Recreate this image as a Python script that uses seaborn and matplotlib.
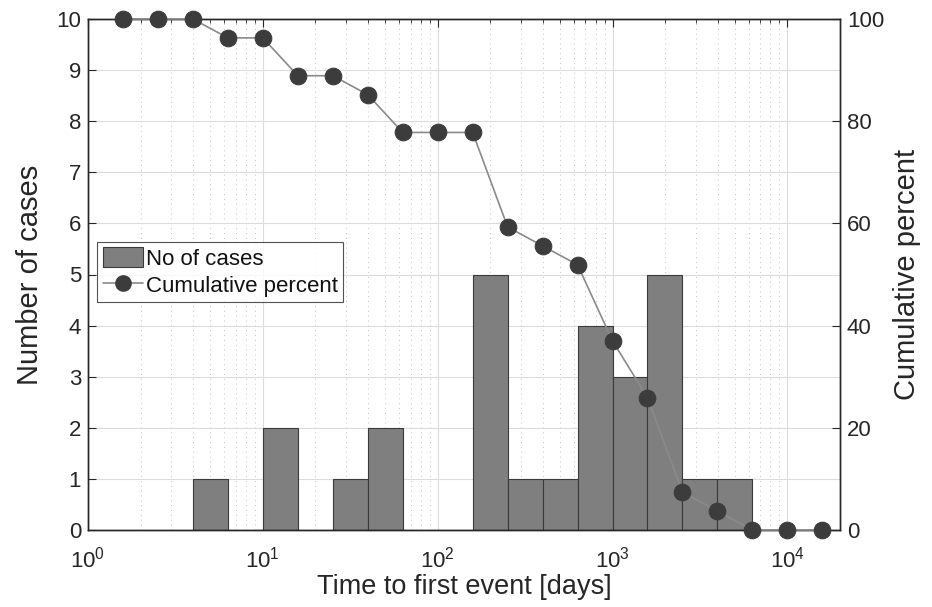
import numpy as np
import pandas as pd
import matplotlib
matplotlib.use("Agg")
import matplotlib.pyplot as plt
from matplotlib.patches import Patch
from matplotlib.lines import Line2D
from matplotlib.ticker import LogLocator
import seaborn as sns

# ---- data ----
bin_start_exp = [0.6, 1.0, 1.4, 1.6, 2.2, 2.4, 2.6, 2.8, 3.0, 3.2, 3.4, 3.6]
cases = [1, 2, 1, 2, 5, 1, 1, 4, 3, 5, 1, 1]
cum_time = [1.585, 2.512, 3.981, 6.310, 10.0, 15.85, 25.12, 39.81, 63.10, 100.0,
            158.5, 251.2, 398.1, 631.0, 1000.0, 1585.0, 2512.0, 3981.0, 6310.0,
            10000.0, 15850.0]
cum_pct = [100, 100, 100, 96.3, 96.3, 88.9, 88.9, 85.2, 77.8, 77.8, 77.8,
           59.3, 55.6, 51.9, 37.0, 25.9, 7.4, 3.7, 0, 0, 0]
left_ticks = list(range(0, 11))
right_ticks = [0, 20, 40, 60, 80, 100]

sns.set_style("white")
plt.rcParams['font.family'] = ['Liberation Sans', 'DejaVu Sans']
plt.rcParams['mathtext.default'] = 'regular'

TXT = "#262626"
BAR = "#7f7f7f"

hist_df = pd.DataFrame({"time": [10 ** (e + 0.1) for e in bin_start_exp], "cases": cases})
cum_df = pd.DataFrame({"time": cum_time, "pct": cum_pct})

fig = plt.figure(figsize=(9.32, 6.07), dpi=100)
ax = fig.add_axes([88 / 932, 1 - 530 / 607, (840 - 88) / 932, (530 - 19) / 607])

sns.histplot(data=hist_df, x="time", weights="cases", log_scale=True,
             binwidth=0.2, binrange=(0.6, 3.8), color=BAR, alpha=1,
             edgecolor="#3a3a3a", linewidth=0.8, ax=ax, zorder=2)

ax.set_xlim(1, 2e4)
ax.set_ylim(0, 10)
ax.set_yticks(left_ticks)
ax.xaxis.set_major_locator(LogLocator(base=10, numticks=10))
ax.xaxis.set_minor_locator(LogLocator(base=10, subs=np.arange(2, 10), numticks=100))
ax.grid(True, which="major", axis="both", color="#dcdcdc", linewidth=0.8, zorder=0)
ax.grid(True, which="minor", axis="x", color="#c4c4c4", linestyle=(0, (1, 4)), linewidth=0.7, zorder=0)
ax.set_axisbelow(True)
ax.tick_params(axis="both", which="both", direction="in", labelsize=16, colors=TXT, top=True)
ax.tick_params(axis="x", which="major", length=6, pad=12)
ax.tick_params(axis="x", which="minor", length=3)
ax.tick_params(axis="y", length=6, right=False, pad=5)
ax.set_xlabel("Time to first event [days]", fontsize=19.5, color=TXT, labelpad=1)
ax.set_ylabel("Number of cases", fontsize=21, color=TXT, labelpad=9)
for s in ax.spines.values():
    s.set_color(TXT)
    s.set_linewidth(1.0)

ax2 = ax.twinx()
sns.lineplot(data=cum_df, x="time", y="pct", ax=ax2, color="#8a8a8a", linewidth=1.2,
             marker="o", markersize=12, markerfacecolor="#3c3c3c",
             markeredgecolor="#3c3c3c", clip_on=False, zorder=5)
ax2.set_xscale("log")
ax2.set_xlim(1, 2e4)
ax2.set_ylim(0, 100)
ax2.set_yticks(right_ticks)
ax2.tick_params(axis="y", direction="in", length=6, labelsize=16, colors=TXT, pad=5)
ax2.set_ylabel("Cumulative percent", fontsize=21, color=TXT, labelpad=6)
ax2.set_xlabel("")
for s in ax2.spines.values():
    s.set_color(TXT)
    s.set_linewidth(1.0)

handles = [Patch(facecolor=BAR, edgecolor="#3a3a3a", linewidth=0.8),
           Line2D([0], [0], color="#8a8a8a", lw=1.2, marker="o", markersize=11,
                  markerfacecolor="#3c3c3c", markeredgecolor="#3c3c3c")]
leg = ax2.legend(handles, ["No of cases", "Cumulative percent"], loc="upper left",
                 bbox_to_anchor=(0.012, 0.564), borderaxespad=0, fontsize=16,
                 frameon=True, fancybox=False, handlelength=1.8, handleheight=1.0,
                 handletextpad=0.15, borderpad=0.25, labelspacing=0.2)
leg.get_frame().set_edgecolor(TXT)
leg.get_frame().set_linewidth(0.8)
for t in leg.get_texts():
    t.set_color("#111111")

fig.savefig("out.png", dpi=100)
